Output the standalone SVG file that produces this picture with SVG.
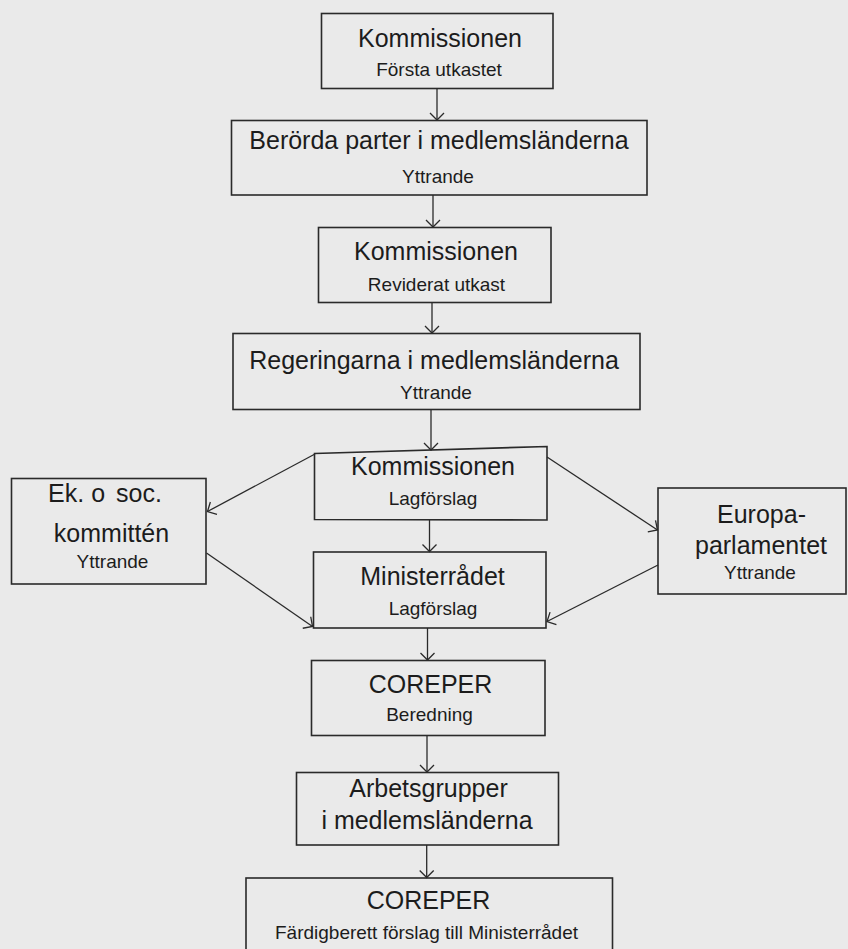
<svg xmlns="http://www.w3.org/2000/svg" width="848" height="949" viewBox="0 0 848 949">
<style>
.box{fill:none;stroke:#2a2a2a;stroke-width:1.6}
.t{font-family:"Liberation Sans",Arial,sans-serif;font-size:25px;fill:#1c1c1c;text-anchor:middle}
.s{font-family:"Liberation Sans",Arial,sans-serif;font-size:19px;fill:#1c1c1c;text-anchor:middle}
.c{stroke:#2a2a2a;stroke-width:1.3;fill:none;marker-end:url(#ah)}
</style>
<defs>
<marker id="ah" markerUnits="userSpaceOnUse" viewBox="-9 -9 11 18" refX="0" refY="0" markerWidth="11" markerHeight="18" orient="auto">
<path d="M-7,-7 L0,0 L-7,7" fill="none" stroke="#2a2a2a" stroke-width="1.3"/>
</marker>
</defs>
<rect width="848" height="949" fill="#eaeaea"/>
<g id="connectors">
<line class="c" x1="437" y1="88.5" x2="437" y2="120"/>
<line class="c" x1="433" y1="195" x2="433" y2="227"/>
<line class="c" x1="432" y1="302.5" x2="432" y2="333"/>
<line class="c" x1="431" y1="409.5" x2="431" y2="450"/>
<line class="c" x1="429.5" y1="520" x2="429.5" y2="551.5"/>
<line class="c" x1="427.5" y1="628" x2="427.5" y2="660"/>
<line class="c" x1="427" y1="735.5" x2="427" y2="772"/>
<line class="c" x1="426.7" y1="845" x2="426.7" y2="877.5"/>
<line class="c" x1="315" y1="454" x2="207.5" y2="511.5"/>
<line class="c" x1="206.5" y1="553" x2="312.5" y2="626.5"/>
<line class="c" x1="547" y1="457" x2="657.5" y2="530"/>
<line class="c" x1="658" y1="565" x2="547" y2="621.5"/>
</g>
<g id="n1">
<rect class="box" x="321.5" y="13.5" width="231.5" height="75"/>
<text class="t" x="440" y="46.5">Kommissionen</text>
<text class="s" x="439" y="76">Första utkastet</text>
</g>
<g id="n2">
<rect class="box" x="231.5" y="120.5" width="415.5" height="74.5"/>
<text class="t" x="439" y="148.5">Berörda parter i medlemsländerna</text>
<text class="s" x="438" y="182.5">Yttrande</text>
</g>
<g id="n3">
<rect class="box" x="318.5" y="227.5" width="232.5" height="75"/>
<text class="t" x="436" y="260">Kommissionen</text>
<text class="s" x="436.5" y="291">Reviderat utkast</text>
</g>
<g id="n4">
<rect class="box" x="233" y="333.5" width="407" height="76"/>
<text class="t" x="434" y="368.5">Regeringarna i medlemsländerna</text>
<text class="s" x="436" y="399">Yttrande</text>
</g>
<g id="n5">
<path class="box" d="M314.5,453.5 L547,446.5 L547,520 L314.5,519.5 Z"/>
<text class="t" x="433" y="475">Kommissionen</text>
<text class="s" x="433" y="504.5">Lagförslag</text>
</g>
<g id="n6">
<rect class="box" x="313.5" y="552" width="232.5" height="76"/>
<text class="t" x="432.5" y="585">Ministerrådet</text>
<text class="s" x="433" y="614.5">Lagförslag</text>
</g>
<g id="n7">
<rect class="box" x="311.5" y="660.5" width="233.5" height="75"/>
<text class="t" x="430.5" y="692.5">COREPER</text>
<text class="s" x="429.5" y="721">Beredning</text>
</g>
<g id="n8">
<rect class="box" x="296.5" y="772.5" width="262" height="72.5"/>
<text class="t" x="428.5" y="797">Arbetsgrupper</text>
<text class="t" x="427" y="828.5">i medlemsländerna</text>
</g>
<g id="n9">
<rect class="box" x="246" y="878" width="366.5" height="90"/>
<text class="t" x="428.5" y="909">COREPER</text>
<text class="s" x="426.5" y="938.5">Färdigberett förslag till Ministerrådet</text>
</g>
<g id="n-ek">
<rect class="box" x="11.5" y="478.5" width="194.5" height="105.5"/>
<text class="t" x="105" y="501.5">Ek. o <tspan dx="4">soc.</tspan></text>
<text class="t" x="111.5" y="542">kommittén</text>
<text class="s" x="112.5" y="568">Yttrande</text>
</g>
<g id="n-ep">
<rect class="box" x="658" y="488" width="188" height="106"/>
<text class="t" x="761.5" y="523">Europa-</text>
<text class="t" x="761" y="554">parlamentet</text>
<text class="s" x="760" y="579">Yttrande</text>
</g>
</svg>
